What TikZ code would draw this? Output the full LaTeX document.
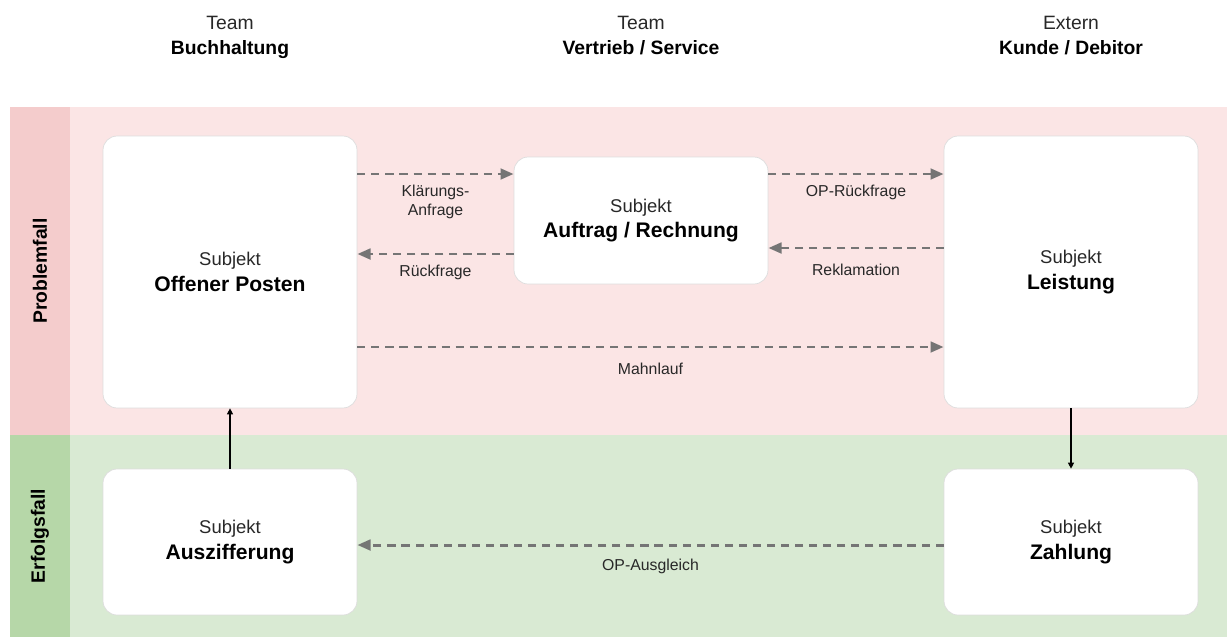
\documentclass[tikz,border=0pt]{standalone}
\usepackage{fontspec}
\setmainfont{Liberation Sans}
\usetikzlibrary{arrows.meta,positioning}
\definecolor{probfill}{RGB}{251,229,229}
\definecolor{probside}{RGB}{244,204,204}
\definecolor{okfill}{RGB}{217,234,211}
\definecolor{okside}{RGB}{182,215,168}
\definecolor{boxline}{RGB}{221,221,221}
\definecolor{flowgray}{RGB}{117,117,117}
\definecolor{labeltext}{RGB}{40,40,40}

\newcommand{\subj}[1]{Subjekt\\{\color{black}\bfseries\fontsize{12}{14}\selectfont #1}}

\tikzset{
  subject/.style={draw=boxline, line width=0.4pt, fill=white, rounded corners=8pt,
    minimum width=5.08cm, align=center, text=labeltext, font=\fontsize{10.5}{14.7}\selectfont},
  flow/.style={draw=flowgray, line width=1.7pt, dash pattern=on 4.6pt off 3.4pt,
    -{Triangle[length=7.5pt,width=6pt]}},
  flowlabel/.style={font=\fontsize{9}{11}\selectfont, text=labeltext, align=center},
  handover/.style={draw=black, line width=0.6pt, -{Triangle[length=3.5pt,width=3.5pt]}},
  header/.style={anchor=north, align=center, text=labeltext, font=\fontsize{11}{14}\selectfont},
  lanelabel/.style={rotate=90, text=black, font=\bfseries\fontsize{11}{12}\selectfont}
}

\begin{document}
\begin{tikzpicture}[x=0.02cm, y=-0.02cm]
  \useasboundingbox (0,0) rectangle (1227,639);

  % Swimlanes
  \fill[probfill] (10,107) rectangle (1227,435);
  \fill[probside] (10,107) rectangle (70,435);
  \fill[okfill] (10,435) rectangle (1227,637);
  \fill[okside] (10,435) rectangle (70,637);
  \node[lanelabel] (problem) at (40,271) {Problemfall};
  \node[lanelabel] (erfolg) at (40,536) {Erfolgsfall};

  % Column headers
  \node[header] (buch) at (230,10) {Team\\{\color{black}\bfseries Buchhaltung}};
  \node[header] (vertrieb) at (641,10) {Team\\{\color{black}\bfseries Vertrieb / Service}};
  \node[header] (kunde) at (1071,10) {Extern\\{\color{black}\bfseries Kunde / Debitor}};

  % Subjects
  \node[subject, minimum height=5.44cm] (posten) at (230,272) {\subj{Offener Posten}};
  \node[subject, minimum height=2.54cm] (auftrag) at (641,220.5) {\subj{Auftrag / Rechnung}};
  \node[subject, minimum height=5.44cm] (leistung) at (1071,272) {\subj{Leistung}};
  \node[subject, minimum height=2.92cm] (auszif) at (230,542) {\subj{Auszifferung}};
  \node[subject, minimum height=2.92cm] (zahlung) at (1071,542) {\subj{Zahlung}};

  % Messages
  \draw[flow] (posten.east |- 0,174) -- node[flowlabel, below=2pt] {Klärungs-\\Anfrage} (auftrag.west |- 0,174);
  \draw[flow] (auftrag.west |- 0,254) -- node[flowlabel, below=2pt] {Rückfrage} (posten.east |- 0,254);
  \draw[flow] (auftrag.east |- 0,174) -- node[flowlabel, below=2pt] {OP-Rückfrage} (leistung.west |- 0,174);
  \draw[flow] (leistung.west |- 0,248) -- node[flowlabel, below=5pt] {Reklamation} (auftrag.east |- 0,248);
  \draw[flow] (posten.east |- 0,347) -- node[flowlabel, below=5pt] {Mahnlauf} (leistung.west |- 0,347);
  \draw[flow] (zahlung.west |- 0,545) -- node[flowlabel, below=4pt] {OP-Ausgleich} (auszif.east |- 0,545);

  % State changes
  \draw[handover] (auszif.north) -- (posten.south);
  \draw[handover] (leistung.south) -- (zahlung.north);
\end{tikzpicture}
\end{document}
